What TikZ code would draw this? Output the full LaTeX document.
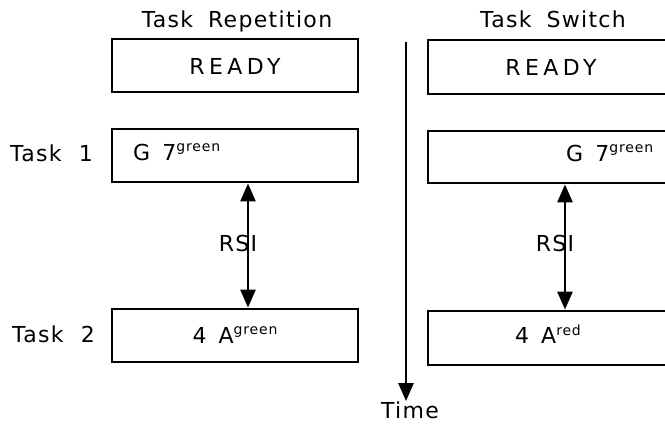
\documentclass[tikz,border=0pt]{standalone}
\usepackage{fontspec}
\setmainfont{DejaVu Sans}[LetterSpace=6]
\newfontfamily\readyfont{DejaVu Sans}[LetterSpace=20]
\usetikzlibrary{arrows.meta}
\newcommand{\supw}[1]{\raisebox{9pt}{\fontsize{14}{14}\selectfont #1}}
\begin{document}
\begin{tikzpicture}[x=1pt,y=-1pt,
  box/.style={draw, line width=2.8pt, inner sep=0pt, minimum height=53pt},
  lab/.style={font=\fontsize{22}{24}\selectfont, inner sep=0pt},
  tip/.tip={Triangle[length=18pt,width=15pt]},
  arr/.style={line width=2.6pt, -tip},
  darr/.style={line width=2.6pt, tip-tip}]
\clip (0,0) rectangle (665,425);
% titles
\node[lab, anchor=base] (trep) at (237,28) {Task\hspace{0.3em} Repetition};
\node[lab, anchor=base] (tsw) at (553,28) {Task\hspace{0.3em} Switch};
% left boxes
\node[box, minimum width=246pt] (rl) at (235,65.5) {};
\node[box, minimum width=246pt] (t1l) at (235,155.5) {};
\node[box, minimum width=246pt] (t2l) at (235,335.5) {};
% right boxes
\node[box, minimum width=252pt, minimum height=54pt] (rr) at (554,67) {};
\node[box, minimum width=252pt, minimum height=52pt] (t1r) at (554,157) {};
\node[box, minimum width=252pt, minimum height=54pt] (t2r) at (554,338) {};
% box texts
\node[lab, anchor=base] (readyl) at (235,75) {\readyfont READY};
\node[lab, anchor=base] (readyr) at (551,76) {\readyfont READY};
\node[lab, anchor=base west] (g7l) at (133,161) {G\hspace{0.55em}7\supw{green}};
\node[lab, anchor=base west] (g7r) at (566,162) {G\hspace{0.55em}7\supw{green}};
\node[lab, anchor=base] (a4l) at (235,343) {4\hspace{0.55em}A\supw{green}};
\node[lab, anchor=base] (a4r) at (548,344) {4\hspace{0.55em}A\supw{red}};
% task labels
\node[lab, anchor=base west] (task1) at (10,162) {Task\hspace{0.4em} 1};
\node[lab, anchor=base west] (task2) at (12,342) {Task\hspace{0.4em} 2};
% RSI arrows
\coordinate (al) at (248,0);
\coordinate (ar) at (565,0);
\draw[darr] (al |- t1l.south) -- (al |- t2l.north);
\draw[darr] (ar |- t1r.south) -- (ar |- t2r.north);
\node[lab, anchor=base] (rsil) at (238,252) {RSI};
\node[lab, anchor=base] (rsir) at (555,252) {RSI};
% time axis
\coordinate (ttop) at (406,42);
\node[lab, anchor=base] (time) at (410,418) {Time};
\draw[arr] (ttop) -- (ttop |- time.north);
\end{tikzpicture}
\end{document}
